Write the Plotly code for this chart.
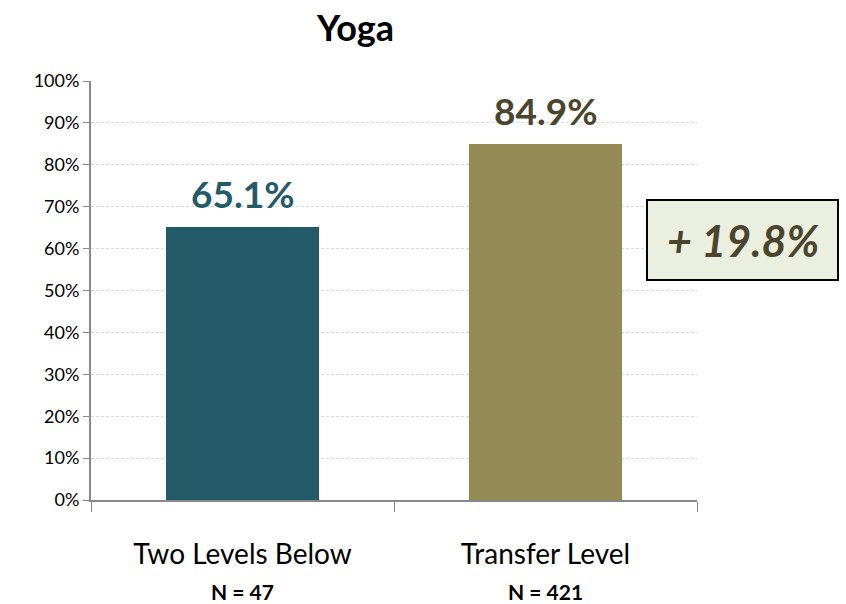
import plotly.graph_objects as go

categories = ["Two Levels Below", "Transfer Level"]
values = [65.1, 84.9]
n_labels = ["N = 47", "N = 421"]
value_labels = ["65.1%", "84.9%"]
diff_label = "+ 19.8%"
title = "Yoga"
y_ticks = [0, 10, 20, 30, 40, 50, 60, 70, 80, 90, 100]

bar_colors = ["#235a68", "#948a54"]
label_colors = ["#245b6b", "#4b452d"]
FONT = "Lato, 'Open Sans', sans-serif"

W, H = 846, 604
l, r, t, b = 91, 149, 81, 104
pw, ph = W - l - r, H - t - b
def px_to_paper(x, y):
    return (x - l) / pw, (H - b - y) / ph

fig = go.Figure()
fig.add_trace(go.Bar(
    x=categories, y=values, marker=dict(color=bar_colors, line=dict(width=0)),
    width=0.505, hoverinfo="skip",
))

for c, v, tx, col in zip(categories, values, value_labels, label_colors):
    fig.add_annotation(x=c, y=v, text=f"<b>{tx}</b>", showarrow=False,
                       yanchor="bottom", yshift=9,
                       font=dict(size=37, color=col, family=FONT))

for c, n in zip(categories, n_labels):
    fig.add_annotation(x=c, y=0, yref="paper", text=f"<b>{n}</b>", showarrow=False,
                       yanchor="middle", yshift=-91,
                       font=dict(size=21, color="#000000", family=FONT))

x0, y0 = px_to_paper(647, 200)
x1, y1 = px_to_paper(838, 280)
fig.add_shape(type="rect", xref="paper", yref="paper", x0=x0, x1=x1, y0=y1, y1=y0,
              fillcolor="#ebefdf", line=dict(color="#000000", width=2), layer="above")
fig.add_annotation(xref="paper", yref="paper", x=(x0 + x1) / 2, y=(y0 + y1) / 2,
                   text=f"<b><i>{diff_label}</i></b>", showarrow=False,
                   xanchor="center", yanchor="middle",
                   font=dict(size=43, color="#4b452d", family=FONT))

fig.add_annotation(xref="paper", yref="paper", x=px_to_paper(355, 0)[0], y=px_to_paper(0, 27)[1],
                   text=f"<b>{title}</b>", showarrow=False, xanchor="center", yanchor="middle",
                   font=dict(size=36, color="#000000", family=FONT))

fig.update_layout(
    width=W, height=H, margin=dict(l=l, r=r, t=t, b=b, autoexpand=False),
    plot_bgcolor="white", paper_bgcolor="white", showlegend=False,
    bargap=0,
    xaxis=dict(range=[-0.5, 1.5], showline=True, linecolor="#898989", linewidth=2,
               ticks="outside", tickson="boundaries", ticklen=10, tickcolor="#898989",
               tickwidth=1, tickfont=dict(size=28, color="#000000", family=FONT),
               showgrid=False, ticklabelstandoff=28, automargin=False),
    yaxis=dict(range=[0, 100], tickvals=y_ticks, ticktext=[f"{v}%" for v in y_ticks],
               showline=True, linecolor="#898989", linewidth=2,
               ticks="outside", ticklen=6, tickcolor="#898989", tickwidth=1,
               tickfont=dict(size=18, color="#000000", family=FONT),
               showgrid=True, gridcolor="#d9d9d9", griddash="3px,2px", gridwidth=1,
               zeroline=False, automargin=False),
)

fig.write_html("out.html", config={"displayModeBar": False},
               post_script="document.body.style.margin='0';document.body.style.overflow='hidden';")
